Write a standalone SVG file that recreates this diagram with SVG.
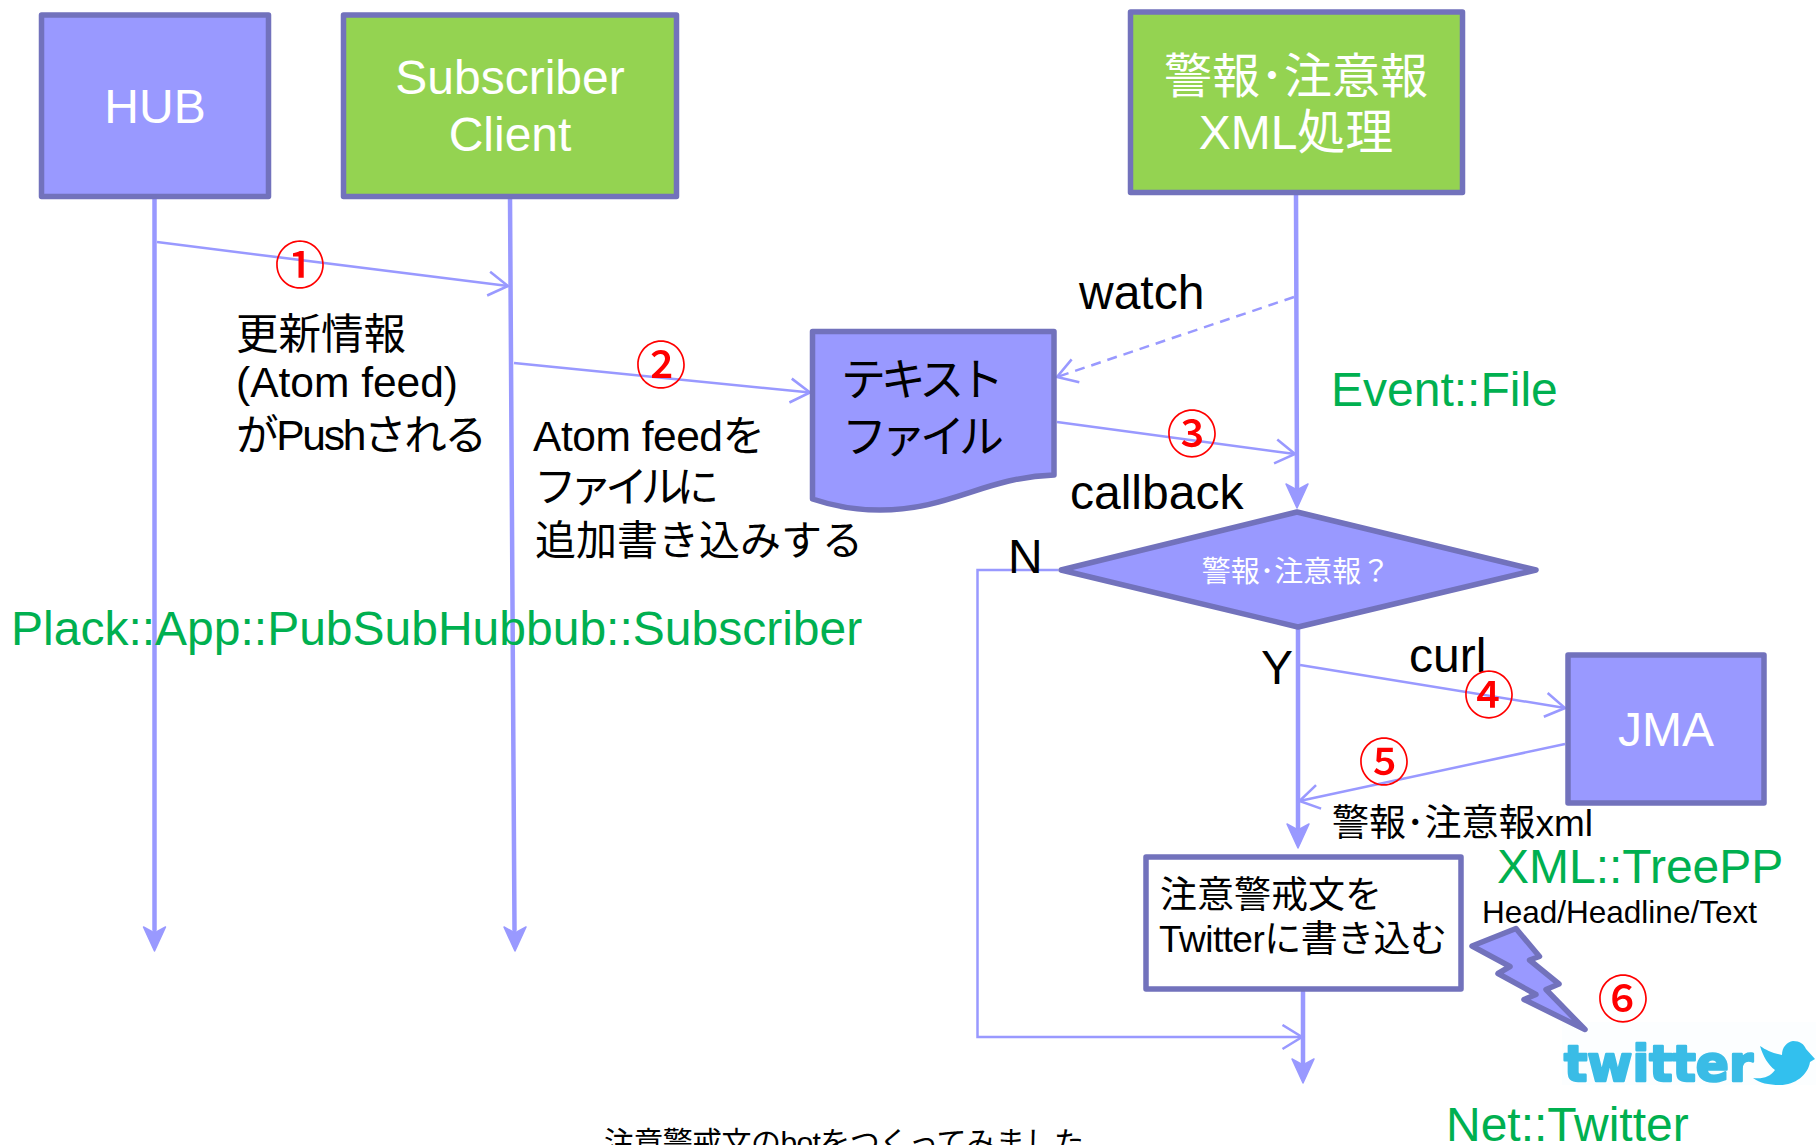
<svg xmlns="http://www.w3.org/2000/svg" width="1816" height="1145" viewBox="0 0 1816 1145">
<style>
text{font-family:"Liberation Sans","Noto Sans CJK JP",sans-serif;font-size:48px;fill:#000}
.w{fill:#fff}
.c{text-anchor:middle}
.g{fill:#00B050}
.n{fill:#f00;font-family:"Noto Sans CJK JP","Liberation Sans",sans-serif;font-size:51px;font-weight:500;text-anchor:middle}
.m{font-size:42.5px}
.b{stroke:#7272BC;stroke-width:5.5;stroke-linejoin:round}
.p{fill:#9999FF}
.gr{fill:#94D351}
.l{fill:none;stroke:#9999FF;stroke-width:2.5}
.h{fill:none;stroke:#9999FF;stroke-width:4.5;stroke-linecap:round}
</style>
<defs>
<marker id="o" viewBox="-14 -9 16 18" refX="0" refY="0" markerUnits="userSpaceOnUse" markerWidth="24" markerHeight="27" orient="auto"><path d="M-13-8 0 0-13 8" fill="none" stroke="#9999FF" stroke-width="1.7"/></marker>
<path id="ah" d="M-11-24 0 0 11-24 0-18Z" fill="#9999FF" stroke="#9999FF" stroke-width="1.5" stroke-linejoin="round"/>
</defs>
<g id="connectors">
<path class="h" d="M154.500 197V930"/><use href="#ah" x="154.500" y="951"/>
<path class="h" d="M510 197 514.500 930"/><use href="#ah" x="515" y="951"/>
<path class="h" d="M1296 195 1297 490"/><use href="#ah" x="1297" y="508"/>
<path class="h" d="M1298 628V830"/><use href="#ah" x="1298" y="848"/>
<path class="h" d="M1303 992V1065"/><use href="#ah" x="1303" y="1083"/>
<path class="l" d="M157 242 508 286" marker-end="url(#o)"/>
<path class="l" d="M514 363 810 392.500" marker-end="url(#o)"/>
<path class="l" d="M1294 297 1057 377" stroke-dasharray="10 7" marker-end="url(#o)"/>
<path class="l" d="M1057 422 1295 454" marker-end="url(#o)"/>
<path class="l" d="M1058 570H977.500V1037H1302" marker-end="url(#o)"/>
<path class="l" d="M1300 665 1565 708" marker-end="url(#o)"/>
<path class="l" d="M1565 744 1299.500 801" marker-end="url(#o)"/>
</g>
<g id="hub"><rect class="b p" x="41.500" y="15" width="227" height="181.500"/><text class="w c" x="155" y="123">HUB</text></g>
<g id="subscriber"><rect class="b gr" x="343.500" y="15" width="333" height="181.500"/><text class="w c" x="510" y="94">Subscriber</text><text class="w c" x="510" y="151">Client</text></g>
<g id="xml"><rect class="b gr" x="1130.500" y="12" width="332" height="180.500"/><text class="w c" x="1296" y="93">警報･注意報</text><text class="w c" x="1296" y="149">XML処理</text></g>
<g id="textfile"><path class="b p" d="M812.500 331.500H1054V475C985 477 950 510 880 510 852 510 830 505 812.500 499Z"/><text x="841" y="396" style="font-size:45px" textLength="163">テキスト</text><text x="842" y="453" style="font-size:45px" textLength="162">ファイル</text></g>
<g id="decision"><path class="b p" d="M1297 512 1536 570 1298 627 1061 570Z"/><text class="w c" x="1296" y="582" style="font-size:29px">警報･注意報？</text></g>
<g id="jma"><rect class="b p" x="1568" y="655" width="196" height="148"/><text class="w c" x="1666" y="746">JMA</text></g>
<g id="tweet"><rect class="b" fill="#fff" x="1146" y="857" width="315" height="132"/><text x="1160" y="908" style="font-size:37px">注意警戒文を</text><text x="1159" y="952" style="font-size:37px" textLength="288">Twitterに書き込む</text></g>
<g id="twitter"><rect x="1562" y="1022" width="254" height="63" fill="#fcfeff"/><text x="1564" y="1081" style="font-size:50px;font-weight:bold;fill:#3ABCE6;stroke:#3ABCE6;stroke-width:2.500px;stroke-linejoin:round;font-family:'DejaVu Sans',sans-serif" textLength="189" lengthAdjust="spacingAndGlyphs">twitter</text><path d="M1753 1078C1763 1079 1770 1077 1775 1070 1768 1065 1763 1056 1760 1046 1766 1050 1772 1053 1782 1055 1782 1047 1787 1042 1793 1041 1800 1041 1804 1044 1806 1049L1815 1059 1810 1062C1808 1075 1795 1085 1780 1085 1768 1085 1760 1083 1753 1078Z" fill="#32C0EE"/></g>
<g id="bolt"><path class="b p" d="M1472 946 1516 928.500 1539.500 956.500 1529.500 960 1559 984 1546 989.500 1585 1029.500 1524 999.500 1536 994.500 1498 973.500 1510 966.500Z"/></g>
<g id="labels">
<text class="m" x="236" y="349">更新情報</text>
<text class="m" x="236" y="397">(Atom feed)</text>
<text class="m" x="236" y="450" textLength="251">がPushされる</text>
<text class="m" x="533" y="451" textLength="232">Atom feedを</text>
<text class="m" x="534" y="502" textLength="185">ファイルに</text>
<text x="535" y="555" style="font-size:41px">追加書き込みする</text>
<text x="1079" y="309">watch</text>
<text class="g" x="1331" y="406">Event::File</text>
<text x="1070" y="509">callback</text>
<text x="1008" y="573">N</text>
<text x="1261" y="684">Y</text>
<text x="1409" y="672">curl</text>
<text x="1332" y="836" style="font-size:37px">警報･注意報xml</text>
<text class="g" x="1497" y="883">XML::TreePP</text>
<text x="1482" y="923" style="font-size:31.500px">Head/Headline/Text</text>
<text class="g" x="11" y="645">Plack::App::PubSubHubbub::Subscriber</text>
<text class="g" x="1446" y="1141">Net::Twitter</text>
<text x="604" y="1153" style="font-size:30px" textLength="480">注意警戒文のbotをつくってみました</text>
<text class="n" x="300" y="284">①</text>
<text class="n" x="661" y="384">②</text>
<text class="n" x="1192" y="453">③</text>
<text class="n" x="1489" y="714">④</text>
<text class="n" x="1384" y="781">⑤</text>
<text class="n" x="1623" y="1018">⑥</text>
</g>
</svg>
